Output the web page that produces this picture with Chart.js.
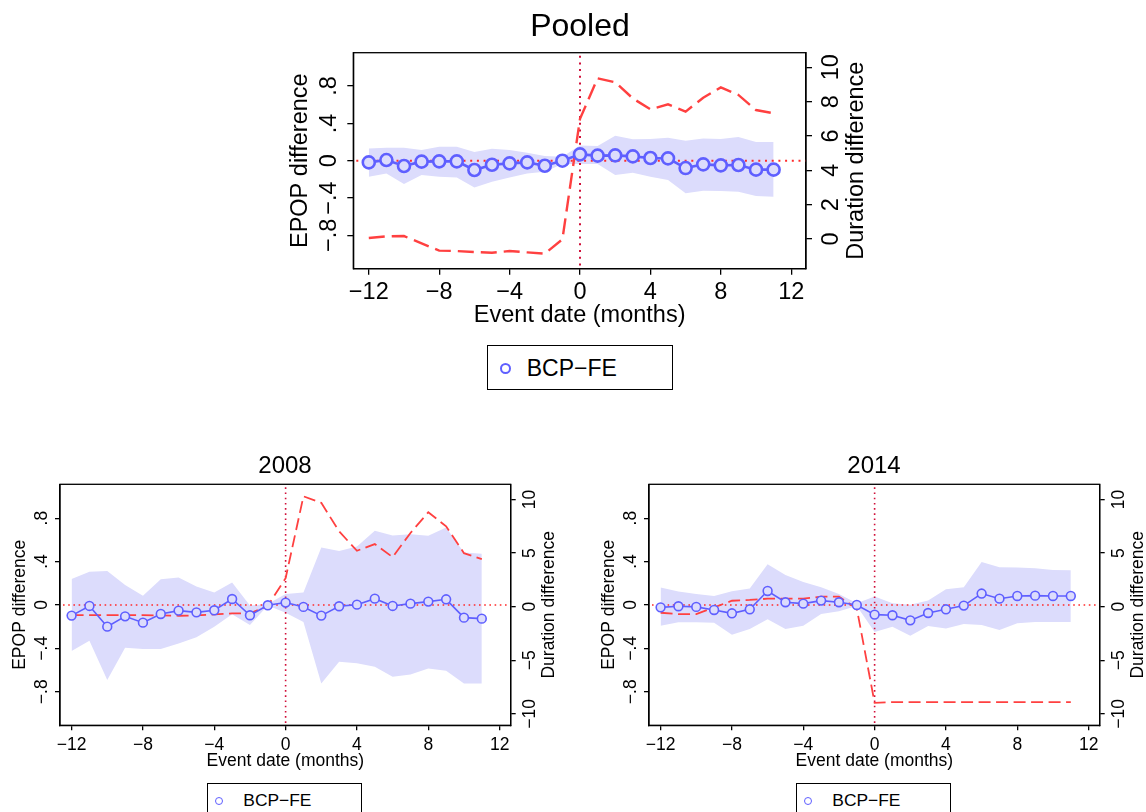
<!DOCTYPE html>
<html><head><meta charset="utf-8">
<script src="https://cdn.jsdelivr.net/npm/chart.js@4"></script>
<style>
body{margin:0;background:#fff;width:1146px;height:812px;overflow:hidden;position:relative;font-family:"Liberation Sans",Arial,sans-serif}
canvas{position:absolute}
.legend{position:absolute;border:1.3px solid #000;box-sizing:border-box;background:#fff}
.mk{position:absolute;border-radius:50%;box-sizing:border-box}
.tx{position:absolute;white-space:nowrap;color:#000;line-height:1}
</style></head><body>
<script>
// ---------- data ----------
const months = [-12,-11,-10,-9,-8,-7,-6,-5,-4,-3,-2,-1,0,1,2,3,4,5,6,7,8,9,10,11];
const xTicks = [-12,-8,-4,0,4,8,12];
const xTickLabels = ['−12','−8','−4','0','4','8','12'];
const epopTicks = [-0.8,-0.4,0,0.4,0.8];
const epopTickLabels = ['−.8','−.4','0','.4','.8'];
const durTicksPooled = [0,2,4,6,8,10];
const durTickLabelsPooled = ['0','2','4','6','8','10'];
const durTicksYear = [-10,-5,0,5,10];
const durTickLabelsYear = ['−10','−5','0','5','10'];
const seriesName = 'BCP−FE';
const panelTitles = ['Pooled','2008','2014'];
const xTitle = 'Event date (months)';
const yLeftTitle = 'EPOP difference';
const yRightTitle = 'Duration difference';

const pooledEpop  = [-0.018,0.007,-0.057,-0.01,-0.007,-0.007,-0.1,-0.043,-0.029,-0.018,-0.054,0.0,0.068,0.054,0.057,0.046,0.029,0.025,-0.079,-0.039,-0.05,-0.046,-0.096,-0.096];
const pooledUpper = [0.132,0.139,0.14,0.114,0.15,0.15,0.093,0.129,0.114,0.086,0.05,0.043,0.164,0.157,0.268,0.229,0.232,0.246,0.214,0.239,0.232,0.254,0.2,0.2];
const pooledLower = [-0.171,-0.136,-0.25,-0.154,-0.171,-0.179,-0.286,-0.225,-0.179,-0.136,-0.118,-0.036,-0.036,-0.036,-0.154,-0.129,-0.171,-0.207,-0.35,-0.321,-0.325,-0.332,-0.379,-0.386];
const pooledDuration = [0.06,0.15,0.17,-0.25,-0.68,-0.7,-0.76,-0.8,-0.7,-0.78,-0.85,-0.02,7.0,9.36,9.13,8.19,7.55,7.84,7.42,8.23,8.83,8.39,7.51,7.32];

const epop2008  = [-0.098,-0.009,-0.2,-0.105,-0.163,-0.083,-0.052,-0.068,-0.049,0.055,-0.095,-0.003,0.022,-0.018,-0.098,-0.012,0.003,0.058,-0.009,0.012,0.031,0.052,-0.117,-0.126];
const upper2008 = [0.24,0.305,0.314,0.185,0.086,0.237,0.252,0.169,0.114,0.206,-0.006,0.009,0.102,0.114,0.529,0.498,0.538,0.683,0.64,0.652,0.637,0.714,0.483,0.471];
const lower2008 = [-0.425,-0.329,-0.692,-0.394,-0.406,-0.406,-0.354,-0.298,-0.2,-0.086,-0.185,-0.006,-0.071,-0.157,-0.723,-0.523,-0.538,-0.569,-0.662,-0.64,-0.585,-0.606,-0.723,-0.723];
const duration2008 = [-0.78,-0.78,-0.78,-0.78,-0.78,-0.81,-0.84,-0.81,-0.72,-0.62,-0.62,0.09,2.66,10.3,9.69,7.03,5.22,5.84,4.63,6.88,8.81,7.5,5.0,4.44];

const epop2014  = [-0.022,-0.012,-0.018,-0.046,-0.077,-0.04,0.129,0.025,0.012,0.04,0.025,0.0,-0.089,-0.095,-0.142,-0.074,-0.04,-0.006,0.105,0.058,0.083,0.086,0.083,0.083];
const upper2014 = [0.16,0.123,0.102,0.083,0.126,0.151,0.375,0.277,0.212,0.163,0.102,0.015,0.077,0.015,0.003,0.04,0.145,0.163,0.397,0.348,0.345,0.338,0.323,0.32];
const lower2014 = [-0.191,-0.16,-0.16,-0.163,-0.274,-0.222,-0.132,-0.222,-0.191,-0.083,-0.058,-0.009,-0.249,-0.2,-0.283,-0.194,-0.218,-0.175,-0.185,-0.231,-0.169,-0.157,-0.157,-0.157];
const duration2014 = [-0.56,-0.69,-0.69,-0.06,0.56,0.63,0.75,0.75,0.75,0.94,0.94,-0.16,-8.97,-8.9,-8.9,-8.9,-8.9,-8.9,-8.9,-8.9,-8.9,-8.9,-8.9,-8.9];

// ---------- styling ----------
const FONT = '"Liberation Sans", Arial, Helvetica, sans-serif';
const BLUE = '#5f5fff', BAND = '#dcdcfc', RED = '#ff4040', HDOT = '#ff2a2a', VDOT = '#d0103a';

function pts(vals){ return months.map((m,i)=>({x:m, y:vals[i]})); }

function vText(ctx, text, cx, cy, fs){
  ctx.save();
  ctx.font = fs + 'px ' + FONT;
  ctx.fillStyle = '#000';
  ctx.translate(cx + 0.358*fs, cy);
  ctx.rotate(-Math.PI/2);
  ctx.textAlign = 'center';
  ctx.textBaseline = 'alphabetic';
  ctx.fillText(text, 0, 0);
  ctx.restore();
}

const panelDecor = {
  id: 'panelDecor',
  afterDatasetDraw(chart, args, o){
    if (args.index !== 2) return;
    const {ctx, chartArea:a, scales} = chart;
    ctx.save();
    ctx.lineWidth = o.dotW;
    ctx.setLineDash([o.dotW, o.dotGap]);
    const y0 = scales.y.getPixelForValue(0);
    ctx.strokeStyle = HDOT;
    ctx.beginPath(); ctx.moveTo(a.left + 3, y0); ctx.lineTo(a.right, y0); ctx.stroke();
    const x0 = scales.x.getPixelForValue(0);
    ctx.strokeStyle = VDOT;
    ctx.beginPath(); ctx.moveTo(x0, a.top + 3); ctx.lineTo(x0, a.bottom); ctx.stroke();
    ctx.restore();
  },
  afterDraw(chart, args, o){
    const {ctx, chartArea:a, scales} = chart;
    ctx.save();
    ctx.strokeStyle = '#000'; ctx.lineWidth = 1.3;
    ctx.strokeRect(a.left, a.top, a.right - a.left, a.bottom - a.top);
    ctx.restore();
    scales.y.ticks.forEach(t => {
      vText(ctx, o.leftLabels[o.leftTicks.indexOf(t.value)], a.left - o.lOff, scales.y.getPixelForValue(t.value), o.fs);
    });
    scales.y2.ticks.forEach(t => {
      vText(ctx, o.rightLabels[o.rightTicks.indexOf(t.value)], a.right + o.rOff, scales.y2.getPixelForValue(t.value), o.fs);
    });
    const cy = (a.top + a.bottom)/2;
    vText(ctx, yLeftTitle, a.left - o.lTitleOff, cy, o.fs);
    vText(ctx, yRightTitle, a.right + o.rTitleOff, cy, o.fs);
  }
};

function makePanel(p){
  const cv = document.createElement('canvas');
  cv.width = p.w; cv.height = p.h;
  cv.style.left = p.left + 'px'; cv.style.top = p.top + 'px';
  cv.style.width = p.w + 'px'; cv.style.height = p.h + 'px';
  document.body.appendChild(cv);

  const axisCommon = (ticksArr) => ({
    type: 'linear',
    afterBuildTicks: s => { s.ticks = ticksArr.map(v => ({value: v})); },
    grid: {drawOnChartArea:false, drawTicks:true, tickLength:p.tickLen, color:'#000', lineWidth:1.3},
    border: {display:true, color:'#000', width:1.3}
  });

  new Chart(cv, {
    type: 'line',
    data: {
      datasets: [
        {label: seriesName, data: pts(p.est), yAxisID:'y', borderColor: BLUE, borderWidth: p.lineW,
         pointRadius: p.ptR, pointBorderWidth: p.ptBW, pointBorderColor: BLUE, pointBackgroundColor: BAND, tension:0, fill:false},
        {label: 'Duration', data: pts(p.dur), yAxisID:'y2', borderColor: RED, borderWidth: p.dashW,
         borderDash: p.dash, pointRadius: 0, tension:0, fill:false},
        {label: 'upper', data: pts(p.up), yAxisID:'y', borderWidth:0, borderColor:'rgba(0,0,0,0)', pointRadius:0,
         backgroundColor: BAND, fill:'+1', tension:0},
        {label: 'lower', data: pts(p.lo), yAxisID:'y', borderWidth:0, borderColor:'rgba(0,0,0,0)', pointRadius:0, fill:false, tension:0}
      ]
    },
    options: {
      responsive:false, animation:false, devicePixelRatio:1,
      layout:{padding:0},
      plugins:{
        legend:{display:false}, tooltip:{enabled:false},
        title:{display:true, text:p.title, color:'#000', font:{family:FONT, size:p.titleFs, weight:'normal', lineHeight:1.2},
               padding:{top:p.titlePadTop, bottom:p.titlePadBottom}},
        panelDecor:{fs:p.fs, lOff:p.lOff, rOff:p.rOff, lTitleOff:p.lTitleOff, rTitleOff:p.rTitleOff,
          leftTicks:epopTicks, leftLabels:epopTickLabels, rightTicks:p.rTicks, rightLabels:p.rLabels,
          dotW:p.dotW, dotGap:p.dotGap}
      },
      scales:{
        x: Object.assign(axisCommon(xTicks), {
          position:'bottom', min:p.xMin, max:p.xMax,
          afterFit: s => { s.height = p.xH; },
          ticks:{color:'#000', font:{family:FONT, size:p.fs}, padding:p.xTickPad, maxRotation:0, minRotation:0, autoSkip:false,
                 callback: v => xTickLabels[xTicks.indexOf(v)]},
          title:{display:true, text:xTitle, color:'#000', font:{family:FONT, size:p.fs}, padding:{top:0, bottom:p.xTitlePadB}}
        }),
        y: Object.assign(axisCommon(epopTicks), {
          position:'left', min:p.yMin, max:p.yMax,
          afterFit: s => { s.width = p.lW; },
          ticks:{display:false}
        }),
        y2: Object.assign(axisCommon(p.rTicks), {
          position:'right', min:p.y2Min, max:p.y2Max,
          afterFit: s => { s.width = p.rW; },
          ticks:{display:false}
        })
      }
    },
    plugins:[panelDecor]
  });

  // legend box
  const lg = document.createElement('div');
  lg.className = 'legend';
  Object.assign(lg.style, {left:p.lg.x+'px', top:p.lg.y+'px', width:p.lg.w+'px', height:p.lg.h+'px'});
  document.body.appendChild(lg);
  const mk = document.createElement('div');
  mk.className = 'mk';
  const d = p.lg.mr*2;
  Object.assign(mk.style, {left:(p.lg.mx - p.lg.mr)+'px', top:(p.lg.my - p.lg.mr)+'px', width:d+'px', height:d+'px',
    border: p.lg.mb + 'px solid ' + BLUE, position:'absolute'});
  document.body.appendChild(mk);
  const tx = document.createElement('div');
  tx.className = 'tx';
  tx.textContent = seriesName;
  Object.assign(tx.style, {left:p.lg.tx+'px', top:(p.lg.ty - 0.49*p.lg.fs)+'px', fontSize:p.lg.fs+'px', fontFamily:FONT});
  document.body.appendChild(tx);
}

// Pooled
makePanel({
  title: panelTitles[0], left:260, top:0, w:640, h:340,
  est: pooledEpop, up: pooledUpper, lo: pooledLower, dur: pooledDuration,
  rTicks: durTicksPooled, rLabels: durTickLabelsPooled,
  xMin:-12.88, xMax:12.84, yMin:-1.157, yMax:1.157, y2Min:-1.73, y2Max:10.85,
  titleFs:32, titlePadTop:8, titlePadBottom:6.3,
  fs:23.5, lW:93.3, rW:94, xH:71.3, tickLen:6, xTickPad:4, xTitlePadB:10.1,
  lOff:26, rOff:24, lTitleOff:55, rTitleOff:49,
  lineW:2.6, ptR:6, ptBW:2.6, dashW:2.4, dash:[16,7], dotW:2, dotGap:4.7,
  lg:{x:487, y:345, w:186, h:45, mx:505.7, my:368.3, mr:5.5, mb:2.2, tx:526.7, ty:368, fs:23}
});
// 2008
makePanel({
  title: panelTitles[1], left:0, top:440, w:570, h:372,
  est: epop2008, up: upper2008, lo: lower2008, dur: duration2008,
  rTicks: durTicksYear, rLabels: durTickLabelsYear,
  xMin:-12.65, xMax:12.62, yMin:-1.109, yMax:1.112, y2Min:-11.06, y2Max:11.42,
  titleFs:24, titlePadTop:12.3, titlePadBottom:3.2,
  fs:17.5, lW:60, rW:59.3, xH:86.7, tickLen:5, xTickPad:4.2, xTitlePadB:40,
  lOff:19, rOff:18, lTitleOff:41.5, rTitleOff:37,
  lineW:1.6, ptR:4.4, ptBW:1.6, dashW:1.8, dash:[12,5.5], dotW:1.6, dotGap:3.6,
  lg:{x:207.3, y:782.7, w:155, h:40, mx:219.3, my:800.7, mr:4.2, mb:1.6, tx:243.3, ty:801, fs:17.4}
});
// 2014
makePanel({
  title: panelTitles[2], left:589, top:440, w:570, h:372,
  est: epop2014, up: upper2014, lo: lower2014, dur: duration2014,
  rTicks: durTicksYear, rLabels: durTickLabelsYear,
  xMin:-12.65, xMax:12.62, yMin:-1.109, yMax:1.112, y2Min:-11.06, y2Max:11.42,
  titleFs:24, titlePadTop:12.3, titlePadBottom:3.2,
  fs:17.5, lW:60, rW:59.3, xH:86.7, tickLen:5, xTickPad:4.2, xTitlePadB:40,
  lOff:19, rOff:18, lTitleOff:41.5, rTitleOff:37,
  lineW:1.6, ptR:4.4, ptBW:1.6, dashW:1.8, dash:[12,5.5], dotW:1.6, dotGap:3.6,
  lg:{x:796.3, y:782.7, w:155, h:40, mx:808.3, my:800.7, mr:4.2, mb:1.6, tx:832.3, ty:801, fs:17.4}
});
</script>
</body></html>
